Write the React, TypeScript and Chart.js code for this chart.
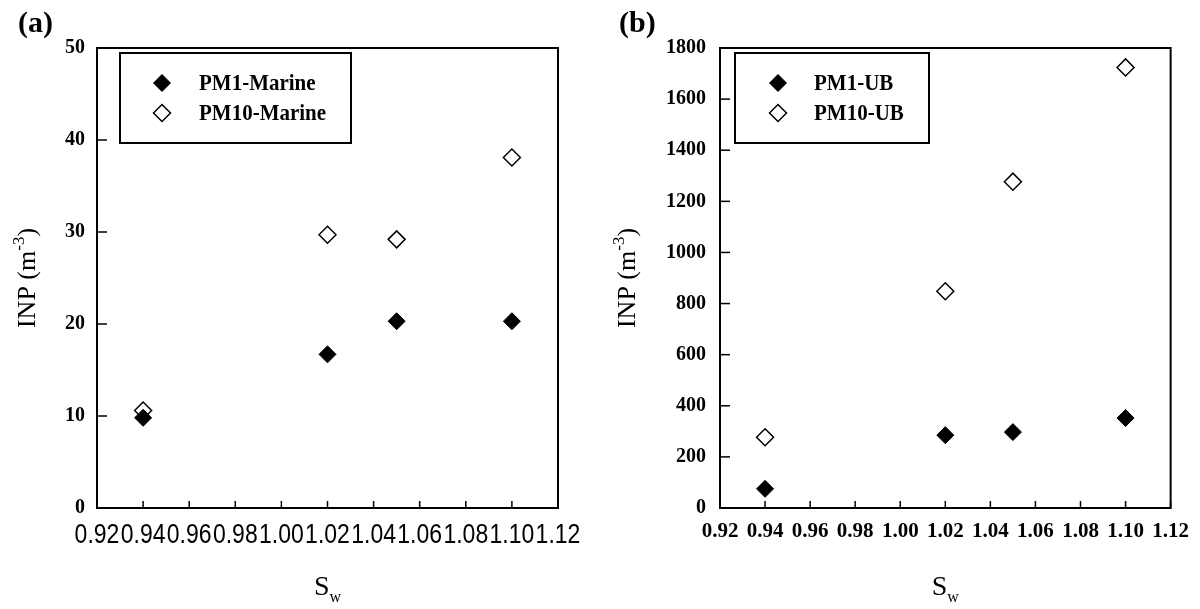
import React, { useEffect, useRef } from "react";
import { Chart, registerables } from "chart.js";
import { drawPoint } from "chart.js/helpers";

Chart.register(...registerables);

// ---- data ----
const swValues = [0.94, 1.02, 1.05, 1.1];
const pm1Marine = [9.8, 16.7, 20.3, 20.3];
const pm10Marine = [10.6, 29.7, 29.2, 38.1];
const pm1UB = [75, 285, 297, 352];
const pm10UB = [277, 848, 1277, 1724];
const labelsA = ["PM1-Marine", "PM10-Marine"];
const labelsB = ["PM1-UB", "PM10-UB"];
const xRange = [0.92, 1.12, 0.02];
const yRangeA = [0, 50, 10];
const yRangeB = [0, 1800, 200];

const SERIF = '"Liberation Serif", "Times New Roman", serif';
const SANS = '"Liberation Sans", Arial, sans-serif';

const decorPlugin = {
  id: "decor",
  afterDraw(chart: any, _args: any, opts: any) {
    const { ctx, chartArea: a, scales } = chart;
    ctx.save();
    ctx.strokeStyle = "#000";
    ctx.fillStyle = "#000";
    // frame
    ctx.lineWidth = 2;
    ctx.strokeRect(a.left, a.top, a.right - a.left, a.bottom - a.top);
    // inward ticks
    ctx.lineWidth = 1.5;
    scales.x.ticks.forEach((t: any) => {
      const px = scales.x.getPixelForValue(t.value);
      ctx.beginPath();
      ctx.moveTo(px, a.bottom);
      ctx.lineTo(px, a.bottom - 7);
      ctx.stroke();
    });
    scales.y.ticks.forEach((t: any) => {
      const py = scales.y.getPixelForValue(t.value);
      ctx.beginPath();
      ctx.moveTo(a.left, py);
      ctx.lineTo(a.left + 10, py);
      ctx.stroke();
    });
    // condensed-looking x tick labels (taken from the library's ticks)
    if (opts.xLabelFont) {
      scales.x.ticks.forEach((t: any) => {
        const px = scales.x.getPixelForValue(t.value);
        ctx.save();
        ctx.translate(px, opts.xLabelY);
        ctx.scale(1, opts.xLabelStretch);
        ctx.font = opts.xLabelFont;
        ctx.textAlign = "center";
        ctx.textBaseline = "alphabetic";
        ctx.fillText(t.label, 0, 0);
        ctx.restore();
      });
    }
    // legend
    const lg = opts.legend;
    ctx.lineWidth = 2;
    ctx.strokeRect(lg.x, lg.y, lg.w, lg.h);
    chart.data.datasets.forEach((ds: any, i: number) => {
      const my = lg.y + 30 + i * 30;
      ctx.save();
      ctx.fillStyle = ds.backgroundColor;
      ctx.strokeStyle = ds.borderColor;
      ctx.lineWidth = ds.borderWidth;
      drawPoint(ctx, { pointStyle: "rectRot", radius: ds.pointRadius, borderWidth: ds.borderWidth, rotation: 0 }, lg.x + lg.mx, my);
      ctx.restore();
      ctx.save();
      ctx.translate(lg.x + lg.tx, my + 1);
      ctx.scale(1, 1.1);
      ctx.font = `bold 21px ${SERIF}`;
      ctx.textBaseline = "middle";
      ctx.textAlign = "left";
      ctx.fillText(ds.label, 0, 0);
      ctx.restore();
    });
    // y title with superscript
    const cy = (a.top + a.bottom) / 2;
    ctx.save();
    ctx.translate(opts.yTitleX, cy);
    ctx.rotate(-Math.PI / 2);
    ctx.textBaseline = "alphabetic";
    ctx.textAlign = "left";
    const big = `26px ${SERIF}`;
    const small = `17px ${SERIF}`;
    ctx.font = big;
    const w1 = ctx.measureText("INP (m").width;
    const w3 = ctx.measureText(")").width;
    ctx.font = small;
    const w2 = ctx.measureText("-3").width;
    const x0 = -(w1 + w2 + w3) / 2;
    ctx.font = big;
    ctx.fillText("INP (m", x0, 0);
    ctx.font = small;
    ctx.fillText("-3", x0 + w1, -11);
    ctx.font = big;
    ctx.fillText(")", x0 + w1 + w2, 0);
    ctx.restore();
    // x title with subscript
    const cx = (a.left + a.right) / 2;
    ctx.textBaseline = "alphabetic";
    ctx.font = `28px ${SERIF}`;
    const ws = ctx.measureText("S").width;
    ctx.font = `16px ${SERIF}`;
    const ww = ctx.measureText("w").width;
    const sx = cx - (ws + ww) / 2;
    ctx.font = `28px ${SERIF}`;
    ctx.fillText("S", sx, 595);
    ctx.font = `16px ${SERIF}`;
    ctx.fillText("w", sx + ws, 602);
    // panel label
    ctx.font = `bold 30px ${SERIF}`;
    ctx.fillText(opts.panel, opts.panelX, 32);
    ctx.restore();
  },
};

function makeConfig(
  s1: number[],
  s2: number[],
  labels: string[],
  yr: number[],
  yWidth: number,
  yPad: number,
  padRight: number,
  xFont: any,
  xPad: number,
  xColor: string,
  decor: any
): any {
  return {
    type: "scatter",
    data: {
      datasets: [
        {
          label: labels[0],
          data: swValues.map((x, i) => ({ x, y: s1[i] })),
          pointStyle: "rectRot",
          pointRadius: 8.5,
          backgroundColor: "#000",
          borderColor: "#000",
          borderWidth: 1,
        },
        {
          label: labels[1],
          data: swValues.map((x, i) => ({ x, y: s2[i] })),
          pointStyle: "rectRot",
          pointRadius: 8.5,
          backgroundColor: "#fff",
          borderColor: "#000",
          borderWidth: 1.5,
        },
      ],
    },
    options: {
      responsive: false,
      animation: false,
      devicePixelRatio: 1,
      layout: { padding: { top: 48, right: padRight, left: 0, bottom: 0 } },
      plugins: { legend: { display: false }, tooltip: { enabled: false }, decor },
      scales: {
        x: {
          type: "linear",
          min: xRange[0],
          max: xRange[1],
          grid: { display: false, drawTicks: false },
          border: { display: true, color: "#000", width: 2 },
          ticks: {
            stepSize: xRange[2],
            color: xColor,
            font: xFont,
            padding: xPad,
            maxRotation: 0,
            autoSkip: false,
            callback: (v: number) => v.toFixed(2),
          },
          afterFit: (s: any) => {
            s.height = 101;
          },
        },
        y: {
          type: "linear",
          min: yr[0],
          max: yr[1],
          grid: { display: false, drawTicks: false },
          border: { display: true, color: "#000", width: 2 },
          ticks: {
            stepSize: yr[2],
            color: "#000",
            font: { family: SERIF, size: 20, weight: "bold" },
            padding: yPad,
            callback: (v: number) => String(Math.round(v)),
          },
          afterFit: (s: any) => {
            s.width = yWidth;
          },
        },
      },
    },
    plugins: [decorPlugin],
  };
}

function Panel(props: { config: any; left: number }) {
  const ref = useRef<HTMLCanvasElement>(null);
  useEffect(() => {
    const chart = new Chart(ref.current as HTMLCanvasElement, props.config);
    return () => chart.destroy();
  }, []);
  return (
    <canvas
      ref={ref}
      width={600}
      height={609}
      style={{ position: "absolute", left: props.left, top: 0, width: 600, height: 609 }}
    />
  );
}

export default function App() {
  const cfgA = makeConfig(
    pm1Marine,
    pm10Marine,
    labelsA,
    yRangeA,
    97,
    12,
    42,
    { family: SANS, size: 23 },
    12,
    "rgba(0,0,0,0)",
    {
      legend: { x: 120, y: 53, w: 231, h: 90, mx: 42, tx: 79 },
      yTitleX: 35,
      panel: "(a)",
      panelX: 18,
      xLabelFont: `23px ${SANS}`,
      xLabelStretch: 1.2,
      xLabelY: 543,
    }
  );
  const cfgB = makeConfig(
    pm1UB,
    pm10UB,
    labelsB,
    yRangeB,
    120,
    14,
    20,
    { family: SERIF, size: 21, weight: "bold" },
    11,
    "#000",
    { legend: { x: 135, y: 53, w: 194, h: 90, mx: 43, tx: 79 }, yTitleX: 35, panel: "(b)", panelX: 19 }
  );
  return (
    <div style={{ position: "absolute", left: 0, top: 0, width: 1200, height: 609, background: "#fff" }}>
      <Panel config={cfgA} left={0} />
      <Panel config={cfgB} left={600} />
    </div>
  );
}
